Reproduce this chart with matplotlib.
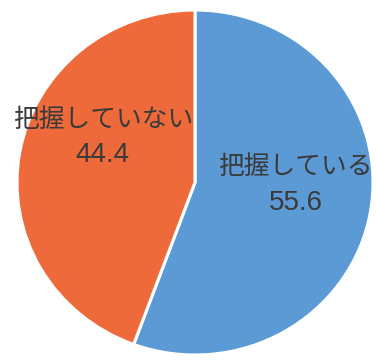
import matplotlib.pyplot as plt

labels = ["把握している", "把握していない"]
values = [55.6, 44.4]
colors = ["#5B9AD4", "#EE6A3A"]

fig = plt.figure(figsize=(3.77, 3.6), dpi=100)
ax = fig.add_axes([0, 0, 1, 1])

wedges, _ = ax.pie(values, colors=colors, startangle=90, counterclock=False,
                   radius=1.0, center=(0, 0),
                   wedgeprops=dict(edgecolor="white", linewidth=2.2))

# the scanned circle is a bit wider than tall
ax.set_aspect("auto")
ax.set_xlim(-1.0955, 1.0225)
ax.set_ylim(-1.029, 1.058)
ax.axis("off")

# label positions in axes fraction
jp_pos = [(295 / 377, 1 - 167 / 360), (103 / 377, 1 - 120 / 360)]
num_pos = [(296 / 377, 1 - 203 / 360), (102 / 377, 1 - 155 / 360)]

for lab, val, (jx, jy), (nx, ny) in zip(labels, values, jp_pos, num_pos):
    ax.text(jx, jy, lab, transform=ax.transAxes, ha="center", va="center",
            fontsize=18.5, color="#3a3a3a", family=["Noto Sans CJK JP", "DejaVu Sans"])
    ax.text(nx, ny, f"{val:.1f}", transform=ax.transAxes, ha="center", va="center",
            fontsize=20, color="#3a3a3a", family=["Liberation Sans", "DejaVu Sans"])

fig.savefig("out.png", dpi=100)
